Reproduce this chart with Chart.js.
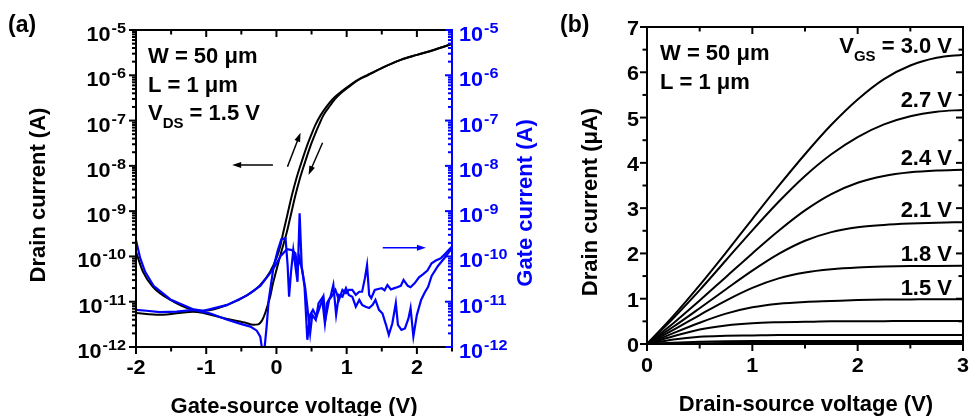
<!DOCTYPE html>
<html>
<head>
<meta charset="utf-8">
<script src="https://cdn.jsdelivr.net/npm/chart.js@4"></script>
<style>
  body { margin: 0; background: #fff; }
  #wrap { position: relative; width: 971px; height: 416px; overflow: hidden; background: #fff; }
  canvas { position: absolute; top: 0; }
  #transfer { left: 0; }
  #output { left: 490px; }
</style>
</head>
<body>
<div id="wrap">
  <canvas id="transfer" width="545" height="416"></canvas>
  <canvas id="output" width="481" height="416"></canvas>
</div>
<script>
// (a) transfer curves: gate-source voltage (V) and log10 of current (A)
const vgsDrainA = [-2, -1.9, -1.76, -1.51, -1.19, -1.04, -0.7, -0.41, -0.23, -0.09, 0.01, 0.05, 0.1, 0.16, 0.22, 0.28, 0.34, 0.43, 0.5, 0.56, 0.63, 0.7, 0.8, 0.9, 1.0, 1.16, 1.3, 1.5, 1.77, 2.0, 2.24, 2.5];
const logDrainA = [-9.9, -10.34, -10.67, -10.96, -11.18, -11.2, -11.07, -10.85, -10.63, -10.34, -10.0, -9.8, -9.45, -9.05, -8.65, -8.3, -8.0, -7.58, -7.3, -7.08, -6.88, -6.72, -6.53, -6.39, -6.27, -6.1, -5.99, -5.84, -5.66, -5.55, -5.44, -5.31];
const vgsDrainB = [-2, -1.66, -1.19, -0.7, -0.45, -0.33, -0.26, -0.2, -0.16, -0.12, -0.09, -0.05, 0.0, 0.06, 0.15, 0.21, 0.27, 0.33, 0.39, 0.48, 0.55, 0.61, 0.67, 0.74, 0.83, 0.92, 1.02, 1.16, 1.3, 1.5, 1.77, 2.0, 2.24, 2.5];
const logDrainB = [-11.25, -11.29, -11.22, -11.38, -11.46, -11.51, -11.5, -11.4, -11.25, -11.05, -10.89, -10.6, -10.3, -9.95, -9.45, -9.05, -8.65, -8.3, -8.0, -7.58, -7.3, -7.08, -6.88, -6.72, -6.53, -6.39, -6.27, -6.11, -6.0, -5.84, -5.66, -5.55, -5.44, -5.31];
const vgsGateA = [-2.0, -1.94, -1.87, -1.75, -1.51, -1.18, -1.04, -0.7, -0.42, -0.23, -0.09, -0.01, 0.06, 0.15, 0.22, 0.27, 0.3, 0.33, 0.37, 0.41, 0.45, 0.48, 0.51, 0.56, 0.6, 0.65, 0.69, 0.72, 0.77, 0.81, 0.85, 0.89, 0.94, 0.99, 1.03, 1.08, 1.13, 1.18, 1.22, 1.27, 1.32, 1.37, 1.41, 1.46, 1.51, 1.56, 1.6, 1.65, 1.7, 1.73, 1.78, 1.83, 1.88, 1.91, 1.95, 2.0, 2.06, 2.11, 2.16, 2.21, 2.3, 2.39, 2.5];
const logGateA = [-9.64, -10.04, -10.34, -10.65, -10.95, -11.17, -11.2, -11.07, -10.86, -10.65, -10.37, -10.19, -9.99, -9.84, -9.86, -9.93, -10.26, -10.04, -10.34, -10.7, -11.26, -11.7, -11.29, -11.4, -11.03, -10.92, -11.48, -11.03, -10.89, -10.63, -11.29, -10.85, -10.89, -10.7, -10.85, -10.89, -11.11, -10.96, -11.07, -11.11, -11.14, -11.07, -10.96, -11.18, -11.26, -11.51, -11.73, -11.48, -11.03, -11.51, -11.62, -11.59, -11.37, -11.14, -11.77, -11.29, -10.96, -10.8, -10.67, -10.43, -10.21, -10.04, -9.82];
const vgsGateB = [-2.0, -1.85, -1.66, -1.42, -1.18, -0.94, -0.7, -0.51, -0.37, -0.28, -0.23, -0.2, -0.18, -0.14, -0.11, -0.04, 0.02, 0.07, 0.13, 0.16, 0.18, 0.21, 0.24, 0.27, 0.3, 0.33, 0.36, 0.4, 0.44, 0.48, 0.52, 0.57, 0.62, 0.67, 0.7, 0.75, 0.8, 0.84, 0.89, 0.94, 0.99, 1.03, 1.08, 1.13, 1.18, 1.22, 1.26, 1.29, 1.32, 1.35, 1.4, 1.45, 1.5, 1.54, 1.58, 1.63, 1.68, 1.72, 1.77, 1.81, 1.87, 1.91, 1.97, 2.03, 2.09, 2.15, 2.21, 2.27, 2.34, 2.41, 2.5];
const logGateB = [-11.18, -11.2, -11.23, -11.22, -11.18, -11.26, -11.4, -11.49, -11.55, -11.64, -11.77, -12.1, -12.2, -11.55, -10.96, -10.22, -9.86, -9.62, -9.6, -10.22, -10.89, -10.3, -9.86, -10.22, -10.56, -9.05, -10.22, -10.67, -11.84, -11.29, -11.18, -11.33, -11.11, -10.89, -11.37, -10.96, -10.85, -10.74, -10.96, -10.74, -10.81, -10.74, -10.74, -10.85, -10.78, -10.78, -10.48, -10.19, -10.85, -10.92, -10.74, -10.72, -10.7, -10.75, -10.63, -10.73, -10.7, -10.68, -10.65, -10.52, -10.65, -10.68, -10.59, -10.46, -10.39, -10.31, -10.15, -10.09, -10.04, -9.93, -9.78];
const decadeExps = [-12, -11, -10, -9, -8, -7, -6, -5];
const vgsTicks = [-2, -1, 0, 1, 2];

// (b) output curves: drain-source voltage (V) and drain current (µA)
const vdsPoints = [0, 0.25, 0.5, 0.75, 1, 1.25, 1.5, 1.75, 2, 2.25, 2.5, 2.75, 3];
const id30 = [0, 0.62, 1.3, 2.02, 2.76, 3.49, 4.19, 4.84, 5.4, 5.85, 6.15, 6.32, 6.39];
const id27 = [0, 0.57, 1.19, 1.85, 2.51, 3.14, 3.71, 4.19, 4.57, 4.85, 5.03, 5.13, 5.17];
const id24 = [0, 0.46, 0.96, 1.48, 2.0, 2.5, 2.95, 3.31, 3.56, 3.71, 3.79, 3.83, 3.85];
const id21 = [0, 0.38, 0.79, 1.21, 1.62, 1.99, 2.28, 2.47, 2.58, 2.63, 2.66, 2.68, 2.69];
const id18 = [0, 0.31, 0.64, 0.96, 1.24, 1.45, 1.58, 1.65, 1.69, 1.71, 1.72, 1.725, 1.73];
const id15 = [0, 0.24, 0.47, 0.67, 0.81, 0.89, 0.93, 0.95, 0.97, 0.98, 0.985, 0.99, 0.99];
const id12 = [0, 0.17, 0.32, 0.41, 0.46, 0.48, 0.49, 0.5, 0.5, 0.505, 0.51, 0.51, 0.51];
const id09 = [0, 0.1, 0.16, 0.18, 0.19, 0.2, 0.2, 0.2, 0.2, 0.2, 0.2, 0.2, 0.2];
const id06 = [0, 0.03, 0.05, 0.06, 0.065, 0.066, 0.066, 0.066, 0.066, 0.066, 0.066, 0.066, 0.066];
const id03 = [0, 0.01, 0.015, 0.02, 0.02, 0.02, 0.02, 0.02, 0.02, 0.02, 0.02, 0.02, 0.02];
const outputCurves = [id30, id27, id24, id21, id18, id15, id12, id09, id06, id03];
const vgsLabels = ['3.0 V', '2.7 V', '2.4 V', '2.1 V', '1.8 V', '1.5 V'];
const vgsLabelLevels = [6.42, 5.23, 3.95, 2.8, 1.83, 1.08];
const vdsTicks = [0, 1, 2, 3];
const idTicks = [0, 1, 2, 3, 4, 5, 6, 7];

const FONT = '"Liberation Sans", Arial, Helvetica, sans-serif';
const BLUE = '#0000ff';
const SX = 1.08; // tick labels in the figure are a little wide

function txt(ctx, s, x, y, size, opt = {}) {
  ctx.save();
  ctx.font = `bold ${size}px ${FONT}`;
  ctx.fillStyle = opt.color || '#000';
  ctx.textAlign = opt.align || 'left';
  ctx.textBaseline = opt.baseline || 'alphabetic';
  ctx.translate(x, y);
  if (opt.rotate) ctx.rotate(opt.rotate);
  if (opt.sx) ctx.scale(opt.sx, 1);
  ctx.fillText(s, 0, 0);
  ctx.restore();
}

function width(ctx, s, size) {
  ctx.save();
  ctx.font = `bold ${size}px ${FONT}`;
  const w = ctx.measureText(s).width;
  ctx.restore();
  return w;
}

// parts: [text, size, dy]
function rich(ctx, parts, x, y, align) {
  let total = 0;
  parts.forEach(p => total += width(ctx, p[0], p[1]));
  let cx = align === 'right' ? x - total : x;
  parts.forEach(p => {
    txt(ctx, p[0], cx, y + (p[2] || 0), p[1]);
    cx += width(ctx, p[0], p[1]);
  });
}

function pow10(ctx, exp, x, y, align, color) {
  const e = String(exp);
  const wb = width(ctx, '10', 20) * SX;
  const we = width(ctx, e, 15) * SX;
  const left = align === 'right' ? x - wb - we - 1 : x;
  txt(ctx, '10', left, y + 11, 20, { sx: SX, color });
  txt(ctx, e, left + wb + 1, y + 3, 15, { sx: SX, color });
}

function line(ctx, x1, y1, x2, y2) {
  ctx.beginPath();
  ctx.moveTo(x1, y1);
  ctx.lineTo(x2, y2);
  ctx.stroke();
}

function arrow(ctx, x1, y1, x2, y2, color) {
  const ang = Math.atan2(y2 - y1, x2 - x1);
  const head = 9, half = 3;
  ctx.save();
  ctx.strokeStyle = color;
  ctx.fillStyle = color;
  ctx.lineWidth = 1.5;
  ctx.lineCap = 'butt';
  line(ctx, x1, y1, x2 - Math.cos(ang) * head * 0.8, y2 - Math.sin(ang) * head * 0.8);
  ctx.translate(x2, y2);
  ctx.rotate(ang);
  ctx.beginPath();
  ctx.moveTo(0, 0);
  ctx.lineTo(-head, -half);
  ctx.lineTo(-head, half);
  ctx.closePath();
  ctx.fill();
  ctx.restore();
}

function pts(xs, ys, isLog) {
  return xs.map((v, i) => ({ x: v, y: isLog ? Math.pow(10, ys[i]) : ys[i] }));
}

// arrows of panel (a), in data units: [vgs1, logI1, vgs2, logI2, colour]
const arrowsA = [
  [-0.05, -7.98, -0.63, -7.98, '#000'],
  [0.157, -8.02, 0.343, -7.27, '#000'],
  [0.657, -7.49, 0.457, -8.2, '#000'],
  [1.514, -9.81, 2.129, -9.81, BLUE]
];

const transferAxes = {
  id: 'transferAxes',
  afterDraw(chart) {
    const { ctx, chartArea: a, scales: { x, y } } = chart;
    ctx.save();
    ctx.lineWidth = 2;
    ctx.lineCap = 'square';
    ctx.strokeStyle = '#000';
    // x ticks, bottom (out) and top (in)
    for (let v = -2; v <= 2.5001; v += 0.5) {
      const px = x.getPixelForValue(v);
      const len = Math.abs(v % 1) < 1e-6 ? 6 : 3.5;
      line(ctx, px, a.bottom, px, a.bottom + len);
      line(ctx, px, a.top, px, a.top + len);
    }
    // y ticks, left (out) and right (in, blue)
    const yt = (val, len, right) => {
      const py = y.getPixelForValue(val);
      if (right) line(ctx, a.right, py, a.right - len, py);
      else line(ctx, a.left, py, a.left - len, py);
    };
    decadeExps.forEach(e => {
      yt(Math.pow(10, e), 6, false);
      if (e < -5) for (let k = 2; k <= 9; k++) yt(k * Math.pow(10, e), 3, false);
    });
    line(ctx, a.left, a.bottom, a.left, a.top);
    line(ctx, a.left, a.top, a.right, a.top);
    line(ctx, a.left, a.bottom, a.right, a.bottom);
    ctx.strokeStyle = BLUE;
    decadeExps.forEach(e => {
      yt(Math.pow(10, e), 6, true);
      if (e < -5) for (let k = 2; k <= 9; k++) yt(k * Math.pow(10, e), 3, true);
    });
    line(ctx, a.right, a.bottom, a.right, a.top);

    // tick labels
    vgsTicks.forEach(v => txt(ctx, String(v), x.getPixelForValue(v), a.bottom + 27, 20, { align: 'center', sx: SX }));
    decadeExps.forEach(e => {
      const py = y.getPixelForValue(Math.pow(10, e));
      pow10(ctx, e, a.left - 10, py, 'right', '#000');
      pow10(ctx, e, a.right + 7, py, 'left', BLUE);
    });

    // titles
    txt(ctx, 'Drain current (A)', 38.5, 195, 22, { rotate: -Math.PI / 2, align: 'center', baseline: 'middle' });
    txt(ctx, 'Gate current (A)', 526, 203, 22, { rotate: -Math.PI / 2, align: 'center', baseline: 'middle', color: BLUE });
    txt(ctx, 'Gate-source voltage (V)', 294, 413, 22, { align: 'center' });
    txt(ctx, '(a)', 8, 32, 23);

    // annotations
    rich(ctx, [['W = 50 μm', 22]], a.left + 12, a.top + 33);
    rich(ctx, [['L = 1 μm', 22]], a.left + 12, a.top + 62);
    rich(ctx, [['V', 22], ['DS', 15, 8], [' = 1.5 V', 22]], a.left + 12, a.top + 90);

    arrowsA.forEach(([v1, l1, v2, l2, c]) => arrow(ctx,
      x.getPixelForValue(v1), y.getPixelForValue(Math.pow(10, l1)),
      x.getPixelForValue(v2), y.getPixelForValue(Math.pow(10, l2)), c));
    ctx.restore();
  }
};

const outputAxes = {
  id: 'outputAxes',
  afterDraw(chart) {
    const { ctx, chartArea: a, scales: { x, y } } = chart;
    ctx.save();
    ctx.lineWidth = 2;
    ctx.lineCap = 'square';
    ctx.strokeStyle = '#000';
    for (let v = 0; v <= 3.0001; v += 0.5) {
      const px = x.getPixelForValue(v);
      const len = Math.abs(v % 1) < 1e-6 ? 6 : 3.5;
      line(ctx, px, a.bottom, px, a.bottom + len);
      line(ctx, px, a.top, px, a.top + len);
    }
    for (let v = 0; v <= 7.0001; v += 0.5) {
      const py = y.getPixelForValue(v);
      const len = Math.abs(v % 1) < 1e-6 ? 6 : 3.5;
      line(ctx, a.left, py, a.left - len, py);
      line(ctx, a.right, py, a.right - len, py);
    }
    ctx.strokeRect(a.left, a.top, a.right - a.left, a.bottom - a.top);

    vdsTicks.forEach(v => txt(ctx, String(v), x.getPixelForValue(v), a.bottom + 28, 20, { align: 'center', sx: SX }));
    idTicks.forEach(v => txt(ctx, String(v), a.left - 8, y.getPixelForValue(v) + 8, 20, { align: 'right', sx: SX }));

    txt(ctx, 'Drain current (μA)', 101, 202, 22, { rotate: -Math.PI / 2, align: 'center', baseline: 'middle' });
    txt(ctx, 'Drain-source voltage (V)', 316, 411, 22, { align: 'center' });
    txt(ctx, '(b)', 70, 32, 23);

    rich(ctx, [['W = 50 μm', 22]], a.left + 13, a.top + 33);
    rich(ctx, [['L = 1 μm', 22]], a.left + 13, a.top + 61.5);
    vgsLabels.forEach((s, i) => {
      const py = y.getPixelForValue(vgsLabelLevels[i]);
      if (i === 0) rich(ctx, [['V', 22], ['GS', 15, 8], [' = ' + s, 22]], a.right - 11, py, 'right');
      else rich(ctx, [[s, 22]], a.right - 11, py, 'right');
    });
    ctx.restore();
  }
};

const common = {
  responsive: false,
  animation: false,
  devicePixelRatio: 1,
  events: [],
  plugins: { legend: { display: false }, tooltip: { enabled: false } }
};

new Chart(document.getElementById('transfer'), {
  type: 'line',
  data: {
    datasets: [
      { data: pts(vgsGateA, logGateA, true), yAxisID: 'y2', borderColor: BLUE, borderWidth: 2.2, tension: 0 },
      { data: pts(vgsGateB, logGateB, true), yAxisID: 'y2', borderColor: BLUE, borderWidth: 2.2, tension: 0 },
      { data: pts(vgsDrainA, logDrainA, true), yAxisID: 'y', borderColor: '#000', borderWidth: 2, cubicInterpolationMode: 'monotone' },
      { data: pts(vgsDrainB, logDrainB, true), yAxisID: 'y', borderColor: '#000', borderWidth: 2, cubicInterpolationMode: 'monotone' }
    ]
  },
  options: {
    ...common,
    layout: { padding: { left: 136, right: 93, top: 30, bottom: 69 } },
    elements: { point: { radius: 0 } },
    scales: {
      x: { type: 'linear', min: -2, max: 2.5, display: false },
      y: { type: 'logarithmic', min: 1e-12, max: 1e-5, display: false },
      y2: { type: 'logarithmic', position: 'right', min: 1e-12, max: 1e-5, display: false }
    }
  },
  plugins: [transferAxes]
});

new Chart(document.getElementById('output'), {
  type: 'line',
  data: {
    datasets: outputCurves.map(c => ({
      data: pts(vdsPoints, c, false),
      borderColor: '#000',
      borderWidth: 2,
      cubicInterpolationMode: 'monotone'
    }))
  },
  options: {
    ...common,
    layout: { padding: { left: 157, right: 8, top: 27, bottom: 72 } },
    elements: { point: { radius: 0 } },
    scales: {
      x: { type: 'linear', min: 0, max: 3, display: false },
      y: { type: 'linear', min: 0, max: 7, display: false }
    }
  },
  plugins: [outputAxes]
});
</script>
</body>
</html>
